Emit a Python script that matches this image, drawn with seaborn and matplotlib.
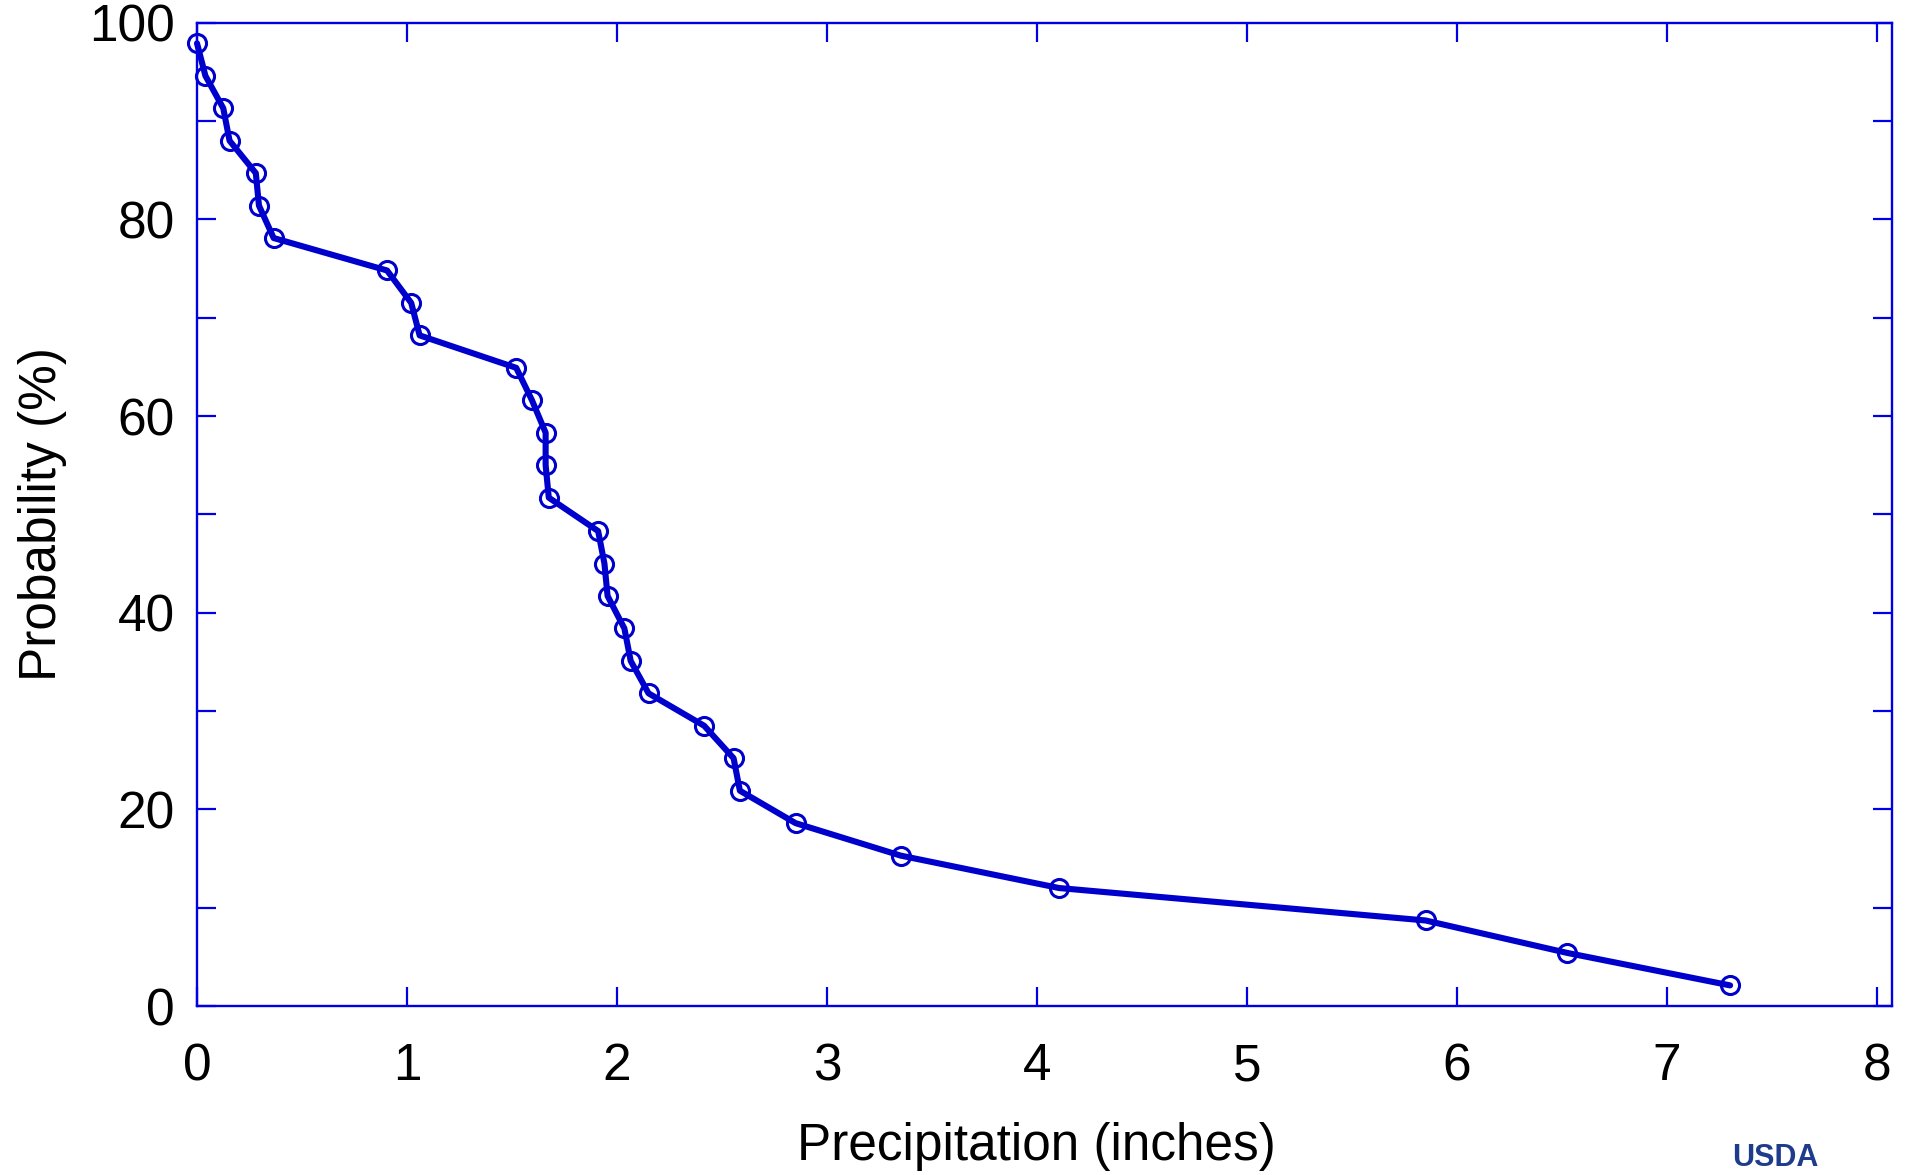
import matplotlib
matplotlib.use("Agg")
import matplotlib.pyplot as plt
import pandas as pd
import seaborn as sns
from matplotlib.ticker import MultipleLocator

# exceedance probability vs precipitation
precip_in = [0.00, 0.04, 0.125, 0.155, 0.28, 0.295, 0.365, 0.905, 1.02, 1.06,
             1.52, 1.595, 1.66, 1.66, 1.675, 1.91, 1.94, 1.955, 2.035, 2.065,
             2.15, 2.415, 2.555, 2.585, 2.85, 3.35, 4.105, 5.85, 6.525, 7.30]
prob_pct = [97.9, 94.6, 91.3, 88.0, 84.7, 81.4, 78.1, 74.8, 71.5, 68.2,
            64.9, 61.6, 58.3, 55.0, 51.7, 48.3, 45.0, 41.7, 38.4, 35.1,
            31.8, 28.5, 25.2, 21.9, 18.6, 15.3, 12.0, 8.7, 5.4, 2.1]
x_ticks = [0, 1, 2, 3, 4, 5, 6, 7, 8]
y_ticks = [0, 20, 40, 60, 80, 100]

df = pd.DataFrame({"precip": precip_in, "prob": prob_pct})

sns.set_style("ticks")
plt.rcParams["font.family"] = ["Liberation Sans", "DejaVu Sans"]

blue = "#0000cc"
frame = "#0000e6"

fig = plt.figure(figsize=(19.09, 11.75), dpi=100)
ax = fig.add_axes([0.1032, 0.1438, 0.8878, 0.8369])

sns.lineplot(data=df, x="precip", y="prob", sort=False, estimator=None,
             color=blue, linewidth=4.4, marker="o", markersize=13,
             markerfacecolor="none", markeredgecolor=blue, markeredgewidth=2.2,
             clip_on=False, ax=ax)

ax.set_xlim(0, 8.07)
ax.set_ylim(0, 100)
ax.set_xticks(x_ticks)
ax.set_yticks(y_ticks)
ax.yaxis.set_minor_locator(MultipleLocator(10))

for s in ax.spines.values():
    s.set_color(frame)
    s.set_linewidth(1.7)

ax.tick_params(which="both", direction="in", length=13.5, width=1.6,
               color=frame, top=True, right=True, labelsize=37,
               labelcolor="black")
ax.tick_params(axis="x", pad=26)
ax.tick_params(axis="y", pad=16)

ax.set_xlabel("Precipitation (inches)", fontsize=37, color="black")
ax.set_ylabel("Probability (%)", fontsize=37, color="black")
ax.xaxis.set_label_coords(0.4955, -0.118)
ax.yaxis.set_label_coords(-0.077, 0.5)

# logo text at the bottom right corner
fig.text(1732 / 1909, 1 - 1173 / 1175, "USDA", fontsize=22, fontweight="bold",
         color="#1f3c8c", ha="left", va="bottom")

fig.savefig("out.png", dpi=100)
